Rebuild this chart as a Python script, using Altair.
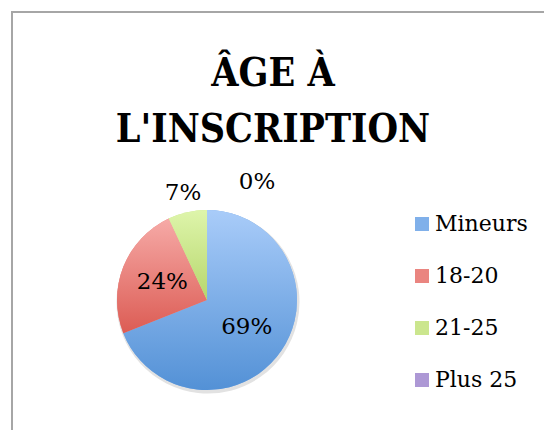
import altair as alt
import pandas as pd

# ---- data ----
categories = ["Mineurs", "18-20", "21-25", "Plus 25"]
values = [69, 24, 7, 0]
title_lines = ["ÂGE À", "L'INSCRIPTION"]

# ---- styles ----
colors_top = ["#a9ccf9", "#f6aaa7", "#def5ab", "#cbbbe8"]
colors_bottom = ["#5391d6", "#dc5c54", "#b6d66c", "#8f74c0"]
colors_mid = ["#80b0ea", "#ea8580", "#cbe68e", "#ad98d5"]
BORDER = "#a6a6a6"

df = pd.DataFrame({"category": categories, "value": values,
                   "idx": list(range(len(categories)))})

W, H = 532, 418
CX, CY, R = 195, 288, 90
theta_scale = alt.Scale(domain=[0, 100])

base = alt.Chart().encode(x=alt.value(CX), y=alt.value(CY))

shadow = alt.Chart().mark_arc(radius=R + 1.5, color="#cfcfcf", opacity=0.6).encode(
    x=alt.value(CX + 1), y=alt.value(CY + 2),
    theta=alt.Theta("start:Q", scale=theta_scale), theta2="end:Q",
)

arc_base = base.mark_arc(radius=R).encode(
    theta=alt.Theta("start:Q", scale=theta_scale),
    theta2="end:Q",
    color=alt.Color(
        "category:N",
        scale=alt.Scale(domain=categories, range=colors_mid),
        legend=alt.Legend(
            orient="none", legendX=399, legendY=201, title=None, padding=0,
            symbolType="square", symbolSize=196, symbolStrokeWidth=0,
            labelFont="DejaVu Serif", labelFontSize=22, labelColor="black",
            rowPadding=30, labelOffset=2,
        ),
    ),
)

grad_layers = []
for c, t, b in zip(categories, colors_top, colors_bottom):
    grad_layers.append(
        base.mark_arc(
            radius=R,
            fill=alt.Gradient(
                gradient="linear",
                stops=[alt.GradientStop(color=t, offset=0),
                       alt.GradientStop(color=b, offset=1)],
                x1=0, x2=0, y1=0, y2=1,
            ),
        )
        .transform_filter(alt.datum.category == c)
        .encode(theta=alt.Theta("start:Q", scale=theta_scale), theta2="end:Q")
    )

labels = base.mark_text(
    font="DejaVu Serif", fontSize=23, color="black", align="center", baseline="middle"
).encode(
    theta=alt.Theta("lt:Q", scale=theta_scale),
    radius=alt.Radius("lr:Q", scale=None),
    text="label:N",
)

pie = (
    alt.layer(shadow, arc_base, *grad_layers, labels, data=df)
    .transform_window(end="sum(value)", sort=[alt.SortField("idx")], frame=[None, 0])
    .transform_calculate(
        start="datum.end - datum.value",
        mid="(datum.start + datum.end) / 2",
        label="datum.value + '%'",
        lr="datum.value < 5 ? 128 : (datum.value < 10 ? 110 : 48)",
        lt="datum.value < 5 ? datum.mid + 6.4 : datum.mid",
    )
)

one = alt.Data(values=[{"k": 1}])
title = alt.Chart(one).mark_text(
    text=title_lines, font="DejaVu Serif Condensed, DejaVu Serif", fontSize=39,
    fontWeight="bold", color="black", align="center", baseline="alphabetic",
    lineHeight=56,
).encode(x=alt.value(261), y=alt.value(74))

border_left = alt.Chart(one).mark_rule(color=BORDER, strokeWidth=2).encode(
    x=alt.value(0), y=alt.value(-1), y2=alt.value(H + 10)
)
border_top = alt.Chart(one).mark_rule(color=BORDER, strokeWidth=2).encode(
    x=alt.value(-1), x2=alt.value(W + 10), y=alt.value(0)
)

chart = (
    alt.layer(border_left, border_top, title, pie)
    .properties(
        width=W,
        height=H,
        autosize=alt.AutoSizeParams(type="none"),
        padding={"left": 4, "top": 4, "right": 0, "bottom": 0},
    )
    .configure_view(stroke=None)
)

chart.save("out.html", embed_options={"renderer": "svg", "actions": False})
